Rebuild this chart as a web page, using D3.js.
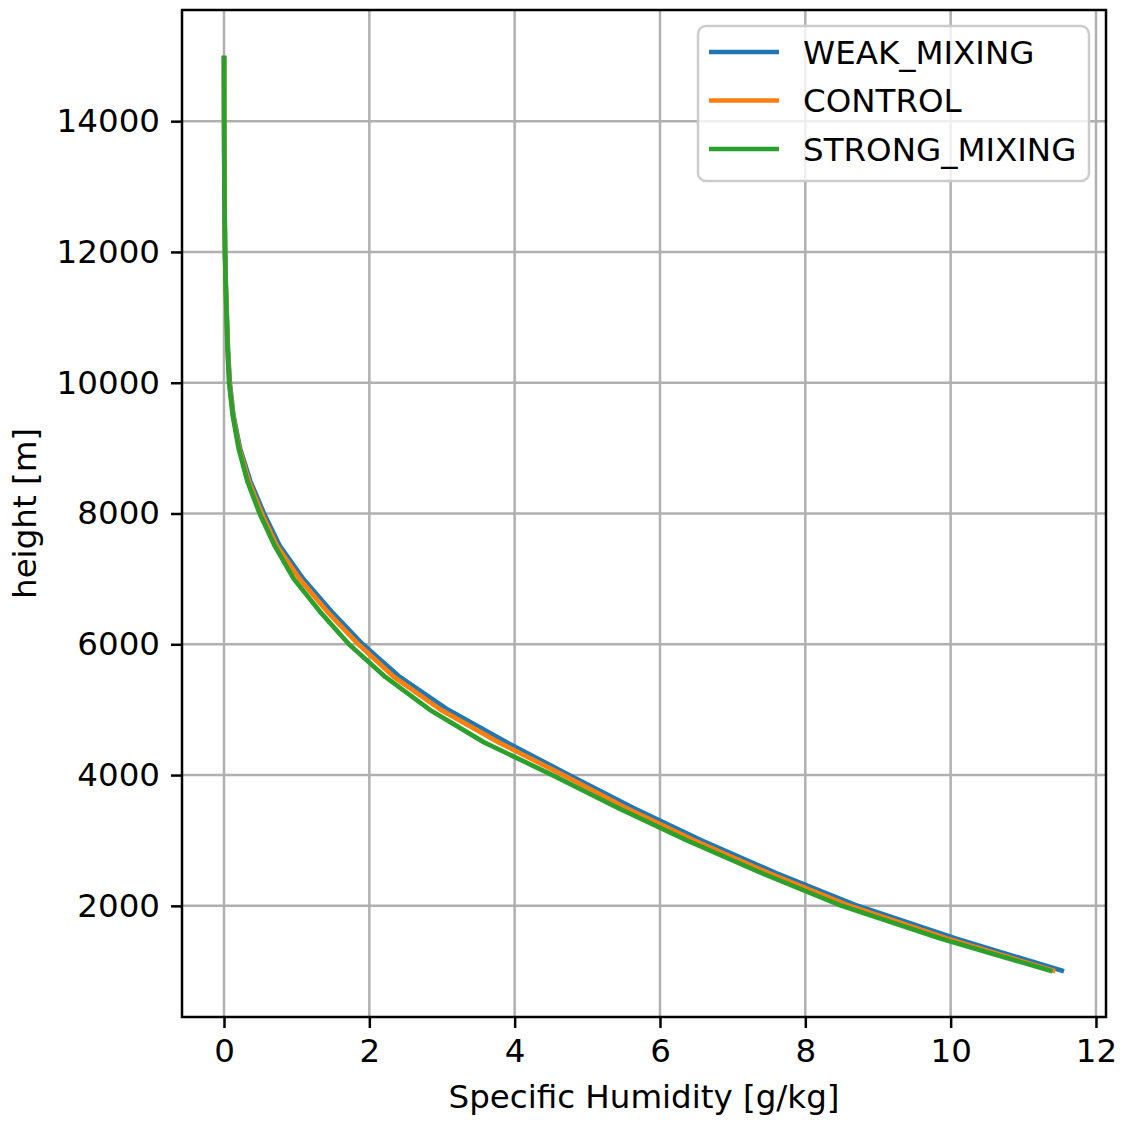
<!DOCTYPE html>
<html>
<head>
<meta charset="utf-8">
<script src="https://cdn.jsdelivr.net/npm/d3@7"></script>
<style>
  html, body { margin: 0; padding: 0; background: #fff; }
  svg text { font-family: "DejaVu Sans", sans-serif; fill: #000; }
</style>
</head>
<body>
<div id="chart"></div>
<script>
// heights every 500 m
const heights = [1000, 1500, 2000, 2500, 3000, 3500, 4000, 4500, 5000, 5500, 6000, 6500, 7000, 7500,
  8000, 8500, 9000, 9500, 10000, 10500, 11000, 11500, 12000, 12500, 13000, 13500, 14000, 14500, 15000];

const weakMixing = [11.56, 10.07, 8.72, 7.60, 6.57, 5.63, 4.75, 3.89, 3.08, 2.42, 1.91, 1.48, 1.09, 0.77,
  0.55, 0.36, 0.22, 0.13, 0.08, 0.055, 0.04, 0.025, 0.015, 0.01, 0.006, 0.004, 0.002, 0.001, 0.0005];
const control = [11.44, 9.95, 8.61, 7.50, 6.47, 5.53, 4.67, 3.78, 2.98, 2.34, 1.85, 1.42, 1.04, 0.73,
  0.52, 0.34, 0.21, 0.125, 0.075, 0.052, 0.038, 0.024, 0.014, 0.009, 0.006, 0.004, 0.002, 0.001, 0.0005];
const strongMixing = [11.40, 9.86, 8.50, 7.40, 6.37, 5.42, 4.52, 3.58, 2.83, 2.22, 1.72, 1.32, 0.96, 0.70,
  0.49, 0.32, 0.20, 0.12, 0.07, 0.05, 0.036, 0.023, 0.014, 0.009, 0.005, 0.003, 0.002, 0.001, 0.0005];

const seriesNames = ["WEAK_MIXING", "CONTROL", "STRONG_MIXING"];
const seriesColors = ["#1f77b4", "#ff7f0e", "#2ca02c"];
const xTicks = [0, 2, 4, 6, 8, 10, 12];
const yTicks = [2000, 4000, 6000, 8000, 10000, 12000, 14000];

const W = 1123, H = 1121;
const plot = {left: 182, right: 1106, top: 10, bottom: 1017};
const fs = 32.5;

const svg = d3.select("#chart").append("svg").attr("width", W).attr("height", H);

const series = [weakMixing, control, strongMixing].map((vals, i) => ({
  name: seriesNames[i], color: seriesColors[i],
  points: vals.map((q, j) => ({q: q, h: heights[j]}))
}));

// matplotlib-like 5% margins
const allQ = weakMixing.concat(control, strongMixing);
const qExt = [0, d3.max(allQ)];
const hExt = d3.extent(heights);
const qPad = (qExt[1] - qExt[0]) * 0.05, hPad = (hExt[1] - hExt[0]) * 0.05;

const x = d3.scaleLinear().domain([qExt[0] - qPad, qExt[1] + qPad]).range([plot.left, plot.right]);
const y = d3.scaleLinear().domain([hExt[0] - hPad, hExt[1] + hPad]).range([plot.bottom, plot.top]);

svg.append("defs").append("clipPath").attr("id", "clip").append("rect")
  .attr("x", plot.left).attr("y", plot.top).attr("width", plot.right - plot.left).attr("height", plot.bottom - plot.top);

// grid
const grid = svg.append("g");
grid.selectAll(".gx").data(xTicks).join("line")
  .attr("x1", d => x(d)).attr("x2", d => x(d)).attr("y1", plot.top).attr("y2", plot.bottom)
  .attr("stroke", "#b0b0b0").attr("stroke-width", 2.5);
grid.selectAll(".gy").data(yTicks).join("line")
  .attr("y1", d => y(d)).attr("y2", d => y(d)).attr("x1", plot.left).attr("x2", plot.right)
  .attr("stroke", "#b0b0b0").attr("stroke-width", 2.5);

// lines
const line = d3.line().x(d => x(d.q)).y(d => y(d.h));
svg.append("g").attr("clip-path", "url(#clip)").selectAll("path").data(series).join("path")
  .attr("d", d => line(d.points)).attr("fill", "none")
  .attr("stroke", d => d.color).attr("stroke-width", 4.7)
  .attr("stroke-linejoin", "round").attr("stroke-linecap", "butt");

// axes
const xAxis = d3.axisBottom(x).tickValues(xTicks).tickSize(11).tickPadding(11).tickFormat(d3.format("d"));
const yAxis = d3.axisLeft(y).tickValues(yTicks).tickSize(11).tickPadding(11).tickFormat(d3.format("d"));

const gx = svg.append("g").attr("transform", `translate(0,${plot.bottom})`).call(xAxis);
const gy = svg.append("g").attr("transform", `translate(${plot.left},0)`).call(yAxis);
[gx, gy].forEach(g => {
  g.select(".domain").remove();
  g.selectAll(".tick line").attr("stroke", "#000").attr("stroke-width", 2.5);
  g.selectAll(".tick text").style("font-size", fs + "px").style("font-family", "DejaVu Sans");
});

// spines
svg.append("rect").attr("x", plot.left).attr("y", plot.top)
  .attr("width", plot.right - plot.left).attr("height", plot.bottom - plot.top)
  .attr("fill", "none").attr("stroke", "#000").attr("stroke-width", 2.5);

// axis labels
svg.append("text").attr("x", (plot.left + plot.right) / 2).attr("y", 1108)
  .attr("text-anchor", "middle").style("font-size", fs + "px").text("Specific Humidity [g/kg]");
svg.append("text").attr("transform", `translate(36,${(plot.top + plot.bottom) / 2}) rotate(-90)`)
  .attr("text-anchor", "middle").style("font-size", fs + "px").text("height [m]");

// legend
const leg = svg.append("g");
leg.append("rect").attr("x", 698).attr("y", 26).attr("width", 391).attr("height", 155)
  .attr("rx", 8).attr("fill", "#fff").attr("fill-opacity", 0.8)
  .attr("stroke", "#cccccc").attr("stroke-width", 2.5);
const rows = leg.selectAll("g.row").data(series).join("g")
  .attr("transform", (d, i) => `translate(0,${52 + i * 48.5})`);
rows.append("line").attr("x1", 709).attr("x2", 779).attr("y1", 0).attr("y2", 0)
  .attr("stroke", d => d.color).attr("stroke-width", 4.7);
rows.append("text").attr("x", 803).attr("y", 0).attr("dy", "0.36em")
  .style("font-size", fs + "px").text(d => d.name);
</script>
</body>
</html>
